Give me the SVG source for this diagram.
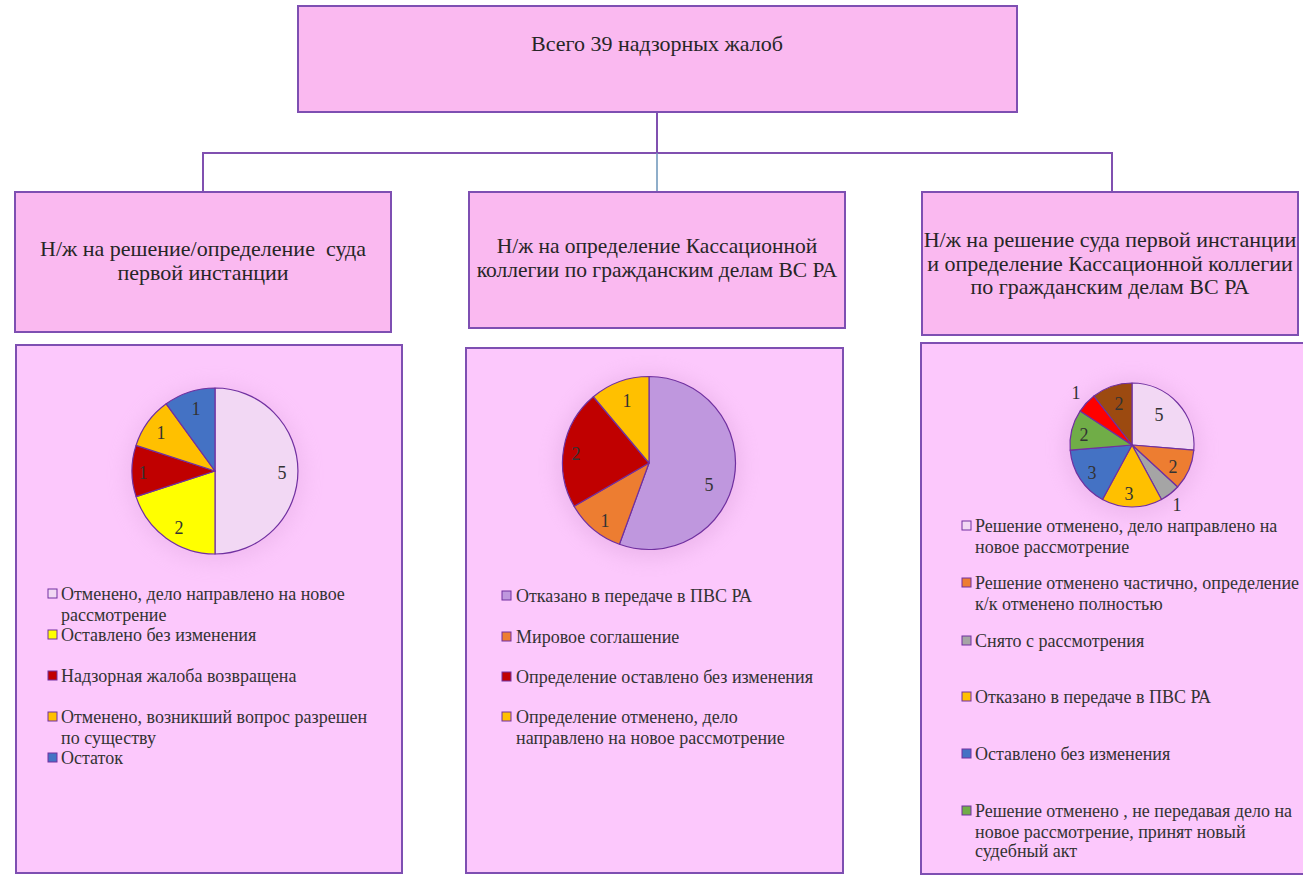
<svg xmlns="http://www.w3.org/2000/svg" width="1303" height="877" viewBox="0 0 1303 877">
<defs>
<style>
.hdr{fill:#FAB9F0;stroke:#7E4FB2;stroke-width:2}
.pnl{fill:#FCC8FC;stroke:#7E4FB2;stroke-width:2}
.ht{font-family:"Liberation Serif","Times New Roman",serif;font-size:21.5px;fill:#262626;text-anchor:middle}
.lg{font-family:"Liberation Serif","Times New Roman",serif;font-size:18px;fill:#333333}
.pl{font-family:"Liberation Serif","Times New Roman",serif;font-size:18px;fill:#333333;text-anchor:middle}
.sl{stroke:#7030A0;stroke-width:1.2;stroke-linejoin:round}
.mk{stroke:#7030A0;stroke-width:1}
.cn{fill:none;stroke:#8050B0;stroke-width:2}
</style>
<filter id="glow" x="-50%" y="-50%" width="200%" height="200%">
<feGaussianBlur stdDeviation="10"/>
</filter>
</defs>

<g id="connectors">
<path class="cn" d="M657,112 V153"/>
<path class="cn" d="M203,192 V153 H1112 V192"/>
<path d="M657,153 V192" fill="none" stroke="#6A93B8" stroke-width="1.5"/>
</g>

<g id="top">
<rect class="hdr" x="298" y="6" width="719" height="106"/>
<text class="ht" x="657" y="51" style="font-size:22px">Всего 39 надзорных жалоб</text>
</g>

<g id="h1">
<rect class="hdr" x="15" y="192" width="376" height="140"/>
<text class="ht" x="203" y="256" style="font-size:22px">Н/ж на решение/определение&#160; суда</text>
<text class="ht" x="203" y="280" style="font-size:22px">первой инстанции</text>
</g>

<g id="h2">
<rect class="hdr" x="469" y="192" width="376" height="136"/>
<text class="ht" x="657" y="253">Н/ж на определение Кассационной</text>
<text class="ht" x="657" y="277">коллегии по гражданским делам ВС РА</text>
</g>

<g id="h3">
<rect class="hdr" x="922" y="192" width="376" height="143"/>
<text class="ht" x="1110" y="247" style="font-size:22px">Н/ж на решение суда первой инстанции</text>
<text class="ht" x="1110" y="270.5" style="font-size:22px">и определение Кассационной коллегии</text>
<text class="ht" x="1110" y="294" style="font-size:22px">по гражданским делам ВС РА</text>
</g>

<g id="p1">
<rect class="pnl" x="16" y="345" width="386" height="528"/>
<circle cx="215" cy="474" r="88" fill="#D9A0D9" opacity="0.35" filter="url(#glow)"/>
<path class="sl" fill="#F2D8F4" d="M215,471 L215,388 A83,83 0 0 1 215,554 Z"/>
<path class="sl" fill="#FFFF00" d="M215,471 L215,554 A83,83 0 0 1 136.06,496.65 Z"/>
<path class="sl" fill="#C00000" d="M215,471 L136.06,496.65 A83,83 0 0 1 136.06,445.35 Z"/>
<path class="sl" fill="#FFC000" d="M215,471 L136.06,445.35 A83,83 0 0 1 166.21,403.85 Z"/>
<path class="sl" fill="#4472C4" d="M215,471 L166.21,403.85 A83,83 0 0 1 215,388 Z"/>
<text class="pl" x="282" y="479">5</text>
<text class="pl" x="179" y="534">2</text>
<text class="pl" x="143" y="479">1</text>
<text class="pl" x="161" y="439">1</text>
<text class="pl" x="196" y="415">1</text>
<rect class="mk" x="48" y="589" width="9" height="9" fill="#F2D8F4"/>
<text class="lg" x="61" y="600">Отменено, дело направлено на новое</text>
<text class="lg" x="61" y="621">рассмотрение</text>
<rect class="mk" x="48" y="630" width="9" height="9" fill="#FFFF00"/>
<text class="lg" x="61" y="641">Оставлено без изменения</text>
<rect class="mk" x="48" y="671" width="9" height="9" fill="#C00000"/>
<text class="lg" x="61" y="682">Надзорная жалоба возвращена</text>
<rect class="mk" x="48" y="712" width="9" height="9" fill="#FFC000"/>
<text class="lg" x="61" y="723">Отменено, возникший вопрос разрешен</text>
<text class="lg" x="61" y="744">по существу</text>
<rect class="mk" x="48" y="753" width="9" height="9" fill="#4472C4"/>
<text class="lg" x="61" y="764">Остаток</text>
</g>

<g id="p2">
<rect class="pnl" x="466" y="348" width="377" height="525"/>
<circle cx="649" cy="466" r="92" fill="#D9A0D9" opacity="0.45" filter="url(#glow)"/>
<path class="sl" fill="#BF97DE" d="M649,463 L649,376.5 A86.5,86.5 0 1 1 619.41,544.28 Z"/>
<path class="sl" fill="#ED7D31" d="M649,463 L619.41,544.28 A86.5,86.5 0 0 1 574.09,506.25 Z"/>
<path class="sl" fill="#C00000" d="M649,463 L574.09,506.25 A86.5,86.5 0 0 1 593.40,396.74 Z"/>
<path class="sl" fill="#FFC000" d="M649,463 L593.40,396.74 A86.5,86.5 0 0 1 649,376.5 Z"/>
<text class="pl" x="709" y="491">5</text>
<text class="pl" x="605" y="527">1</text>
<text class="pl" x="576" y="460">2</text>
<text class="pl" x="627" y="407">1</text>
<rect class="mk" x="502" y="591" width="9" height="9" fill="#BF97DE"/>
<text class="lg" x="516" y="602">Отказано в передаче в ПВС РА</text>
<rect class="mk" x="502" y="632" width="9" height="9" fill="#ED7D31"/>
<text class="lg" x="516" y="643">Мировое соглашение</text>
<rect class="mk" x="502" y="672" width="9" height="9" fill="#C00000"/>
<text class="lg" x="516" y="683">Определение оставлено без изменения</text>
<rect class="mk" x="502" y="712" width="9" height="9" fill="#FFC000"/>
<text class="lg" x="516" y="723">Определение отменено, дело</text>
<text class="lg" x="516" y="744">направлено на новое рассмотрение</text>
</g>

<g id="p3">
<rect class="pnl" x="921" y="343" width="392" height="531"/>
<circle cx="1132" cy="448" r="68" fill="#D9A0D9" opacity="0.4" filter="url(#glow)"/>
<path class="sl" fill="#F2D8F4" d="M1132,445 L1132,383 A62,62 0 0 1 1193.79,450.12 Z"/>
<path class="sl" fill="#ED7D31" d="M1132,445 L1193.79,450.12 A62,62 0 0 1 1177.60,487.01 Z"/>
<path class="sl" fill="#A5A5A5" d="M1132,445 L1177.60,487.01 A62,62 0 0 1 1161.51,499.53 Z"/>
<path class="sl" fill="#FFC000" d="M1132,445 L1161.51,499.53 A62,62 0 0 1 1102.49,499.53 Z"/>
<path class="sl" fill="#4472C4" d="M1132,445 L1102.49,499.53 A62,62 0 0 1 1070.21,450.12 Z"/>
<path class="sl" fill="#70AD47" d="M1132,445 L1070.21,450.12 A62,62 0 0 1 1080.10,411.09 Z"/>
<path class="sl" fill="#FF0000" d="M1132,445 L1080.10,411.09 A62,62 0 0 1 1093.92,396.07 Z"/>
<path class="sl" fill="#9C4A10" d="M1132,445 L1093.92,396.07 A62,62 0 0 1 1132,383 Z"/>
<text class="pl" x="1159" y="421">5</text>
<text class="pl" x="1173" y="473">2</text>
<text class="pl" x="1177" y="511">1</text>
<text class="pl" x="1129" y="500">3</text>
<text class="pl" x="1092" y="479">3</text>
<text class="pl" x="1084" y="441">2</text>
<text class="pl" x="1076" y="399">1</text>
<text class="pl" x="1119" y="410">2</text>
<rect class="mk" x="962" y="521" width="9" height="9" fill="#F2D8F4"/>
<text class="lg" x="975" y="532">Решение отменено, дело направлено на</text>
<text class="lg" x="975" y="553">новое рассмотрение</text>
<rect class="mk" x="962" y="578" width="9" height="9" fill="#ED7D31"/>
<text class="lg" x="975" y="589">Решение отменено частично, определение</text>
<text class="lg" x="975" y="610">к/к отменено полностью</text>
<rect class="mk" x="962" y="636" width="9" height="9" fill="#A5A5A5"/>
<text class="lg" x="975" y="647">Снято с рассмотрения</text>
<rect class="mk" x="962" y="692" width="9" height="9" fill="#FFC000"/>
<text class="lg" x="975" y="703">Отказано в передаче в ПВС РА</text>
<rect class="mk" x="962" y="749" width="9" height="9" fill="#4472C4"/>
<text class="lg" x="975" y="760">Оставлено без изменения</text>
<rect class="mk" x="962" y="806" width="9" height="9" fill="#70AD47"/>
<text class="lg" x="975" y="817">Решение отменено , не передавая дело на</text>
<text class="lg" x="975" y="838">новое рассмотрение, принят новый</text>
<text class="lg" x="975" y="857">судебный акт</text>
</g>
</svg>
